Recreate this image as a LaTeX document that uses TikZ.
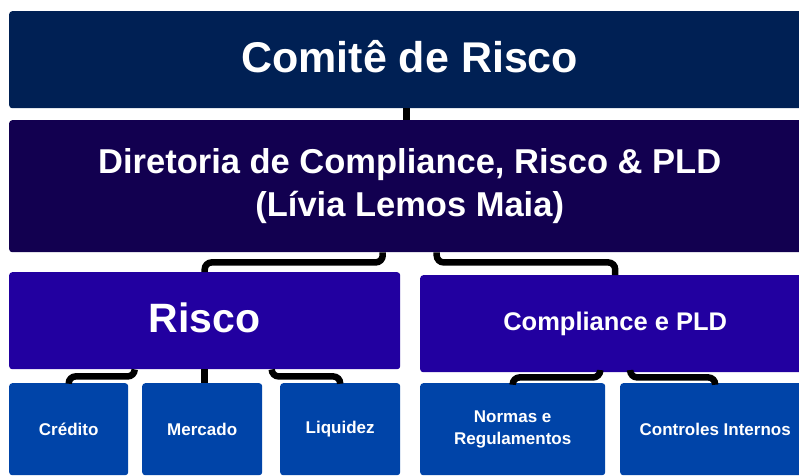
\documentclass[tikz,border=0pt]{standalone}
\usepackage{fontspec}
\setmainfont{Liberation Sans}
\usetikzlibrary{positioning, calc}
\definecolor{comiteblue}{RGB}{0,32,84}
\definecolor{dirblue}{RGB}{18,0,80}
\definecolor{areablue}{RGB}{34,0,160}
\definecolor{leafblue}{RGB}{0,68,168}

\tikzset{
  box/.style={rounded corners=3pt, text=white, align=center, inner sep=0pt, anchor=north west},
  leaf/.style={box, fill=leafblue, minimum height=92pt, font=\bfseries\fontsize{17}{22}\selectfont},
  conn/.style={line width=6.5pt, rounded corners=7pt}
}

\begin{document}
\begin{tikzpicture}[x=1pt,y=-1pt]
\useasboundingbox (0,0) rectangle (799,475);
\node[box,fill=comiteblue,minimum width=801pt,minimum height=97pt,font=\bfseries\fontsize{43}{50}\selectfont] (comite) at (9,11) {\raisebox{6pt}{Comitê de Risco}};
\node[box,fill=dirblue,minimum width=801pt,minimum height=132pt,font=\bfseries\fontsize{34.5}{43}\selectfont] (dir) at (9,120) {\raisebox{3pt}{\begin{tabular}{@{}c@{}}Diretoria de Compliance, Risco \& PLD\\(Lívia Lemos Maia)\end{tabular}}};
\node[box,fill=areablue,minimum width=391pt,minimum height=97pt,font=\bfseries\fontsize{41}{48}\selectfont] (risco) at (9,272) {\raisebox{7pt}{Risco}};
\node[box,fill=areablue,minimum width=390pt,minimum height=97pt,font=\bfseries\fontsize{25.5}{30}\selectfont] (comp) at (420,275) {\raisebox{2pt}{Compliance e PLD}};

\node[leaf,minimum width=119pt] (cred) at (9,383) {Crédito};
\node[leaf,minimum width=120pt] (merc) at (142,383) {Mercado};
\node[leaf,minimum width=120pt] (liq) at (280,383) {Liquidez};
\node[leaf,minimum width=185pt] (normas) at (420,383) {Normas e\\Regulamentos};
\node[leaf,minimum width=190pt] (ctrl) at (620,383) {Controles Internos};

% ligacoes
\draw[conn] ([xshift=-3pt]comite.south) -- ([xshift=-3pt]dir.north);
\draw[conn] ([xshift=-27pt]dir.south) -- ++(0,10) -| (risco.north);
\draw[conn] ([xshift=27pt]dir.south) -- ++(0,10) -| (comp.north);
\draw[conn] ([xshift=-70pt]risco.south) -- ++(0,7) -| (cred.north);
\draw[conn] (risco.south) -- (risco.south |- merc.north);
\draw[conn] ([xshift=67pt]risco.south) -- ++(0,7) -| (liq.north);
\draw[conn] ([xshift=-15pt]comp.south) -- ++(0,5) -| (normas.north);
\draw[conn] ([xshift=15pt]comp.south) -- ++(0,5) -| (ctrl.north);
\end{tikzpicture}
\end{document}
